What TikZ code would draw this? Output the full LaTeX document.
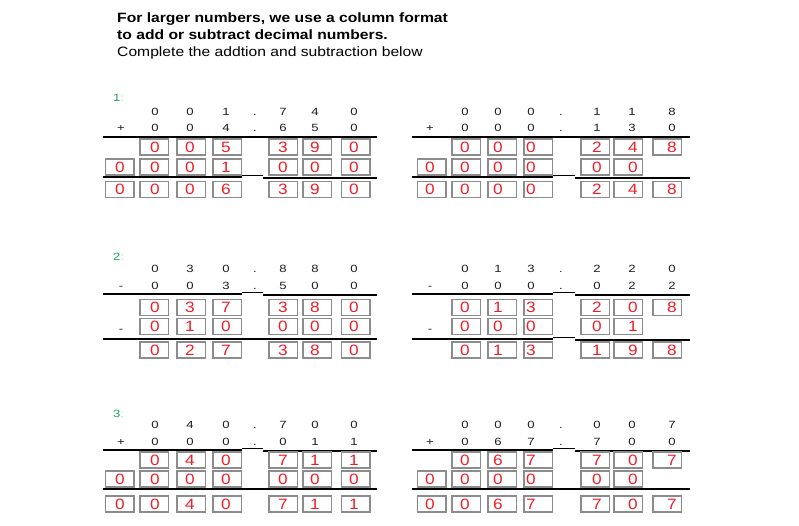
\documentclass[tikz,border=0pt]{standalone}
\usepackage{fontspec}
\setmainfont{Liberation Sans}
\definecolor{boxgray}{RGB}{140,140,140}
\definecolor{digred}{RGB}{240,30,40}
\definecolor{labgreen}{RGB}{30,170,90}
\definecolor{labfaint}{RGB}{170,220,190}
\definecolor{txt}{RGB}{30,30,30}
\newcommand\wideR[1]{\scalebox{1.15}[1]{#1}}
\newcommand\wideT[1]{\scalebox{1.25}[1]{#1}}
\newcommand\wideH[1]{\scalebox{1.16}[1]{#1}}
\tikzset{
 bx/.style={draw=boxgray, line width=1.5pt, minimum width=28.5pt, minimum height=16.3pt, inner sep=0pt},
 rd/.style={text=digred, font=\fontsize{15}{15}\selectfont, inner sep=0pt},
 tp/.style={text=txt, font=\fontsize{10.5}{10.5}\selectfont, inner sep=0pt, anchor=base},
 lab/.style={text=labgreen, font=\fontsize{10.5}{10.5}\selectfont, inner sep=0pt, anchor=base west},
 rulebar/.style={line width=2pt, black},
 thinbar/.style={line width=1pt, black},
 ttl/.style={font=\fontsize{13.5}{16}\selectfont, inner sep=0pt, anchor=base west, text=black},
}
% one row of boxes: prefix, y, list name/boxx/digitx/digit
\newcommand\bxrow[3]{\foreach \nm/\bx/\dx/\dg in {#3} {%
  \node[bx] (#1-\nm) at (\bx,#2) {};
  \node[rd] (#1-\nm-t) at (\dx,#2) {\wideR{\dg}};}}
% one row of printed digits: prefix, baseline y, list x/digit
\newcommand\digrow[3]{\foreach \xx/\dg [count=\i] in {#3} {%
  \node[tp] (#1-\i) at (\xx,#2) {\wideT{\dg}};}}
% a rule with a thin middle part: y, x0, g1, g2, x1
\newcommand\gapbar[5]{%
  \draw[rulebar] (#2,#1) -- (#3,#1);
  \draw[thinbar] (#3,#1-1.5) -- (#4,#1-1.5);
  \draw[rulebar] (#4,#1+1) -- (#5,#1+1);}
\begin{document}
\begin{tikzpicture}[x=1pt,y=-1pt]
\useasboundingbox[fill=white] (0,0) rectangle (799,525);
% title
\node[ttl,font=\fontsize{13.5}{16}\selectfont\bfseries] (t1) at (117,22) {\wideH{For larger numbers, we use a column format}};
\node[ttl,font=\fontsize{13.5}{16}\selectfont\bfseries] (t2) at (117,39.5) {\wideH{to add or subtract decimal numbers.}};
\node[ttl] (t3) at (117,56) {\wideH{Complete the addtion and subtraction below}};
% labels
\node[lab] (l1) at (113,101.7) {\wideT{1\textcolor{labfaint}{:}}};
\node[lab] (l2) at (113,260) {\wideT{2\textcolor{labfaint}{:}}};
\node[lab] (l3) at (113,417.3) {\wideT{3\textcolor{labfaint}{:}}};

%%%%% Problem 1 left
\digrow{p1la}{115}{155/0,190/0,226/1,255/.,283/7,315/4,354/0}
\digrow{p1lb}{131.7}{121/+,155/0,190/0,226/4,255/.,283/6,315/5,354/0}
\draw[rulebar] (103,137) -- (377,137);
\gapbar{177}{103}{242}{263}{377}
\bxrow{p1l1}{147}{a/154/155/0,b/191/190/0,c/227/226/5,d/283/283/3,e/317/315/9,f/355.5/354/0}
\bxrow{p1l2}{167}{k/119.5/120/0,a/154/155/0,b/191/190/0,c/227/226/1,d/283/283/0,e/317/315/0,f/355.5/354/0}
\bxrow{p1l3}{189.5}{k/119.5/120/0,a/154/155/0,b/191/190/0,c/227/226/6,d/283/283/3,e/317/315/9,f/355.5/354/0}

%%%%% Problem 1 right
\digrow{p1ra}{115}{465/0,498/0,531/0,561/.,597/1,632/1,672/8}
\digrow{p1rb}{131.7}{430/+,465/0,498/0,531/0,561/.,597/1,632/3,672/0}
\draw[rulebar] (412,137) -- (690,137);
\gapbar{177}{412}{553}{575}{690}
\bxrow{p1r1}{147}{a/466/465/0,b/502/498/0,c/538/531/0,d/595/597/2,e/628/633/4,f/667/672/8}
\bxrow{p1r2}{167}{k/431.5/430/0,a/466/465/0,b/502/498/0,c/538/531/0,d/595/597/0,e/628/633/0}
\bxrow{p1r3}{189.5}{k/431.5/430/0,a/466/465/0,b/502/498/0,c/538/531/0,d/595/597/2,e/628/633/4,f/667/672/8}

%%%%% Problem 2 left
\digrow{p2la}{272.3}{155/0,190/3,226/0,255/.,283/8,315/8,354/0}
\digrow{p2lb}{289}{121/-,155/0,190/0,226/3,255/.,283/5,315/0,354/0}
\gapbar{294}{103}{242}{263}{377}
\draw[rulebar] (103,339) -- (377,339);
\bxrow{p2l1}{307.5}{a/154/155/0,b/191/190/3,c/227/226/7,d/283/283/3,e/317/315/8,f/355.5/354/0}
\node[tp,anchor=center] (p2lm) at (121,331) {\wideT{-}};
\bxrow{p2l2}{326.5}{a/154/155/0,b/191/190/1,c/227/226/0,d/283/283/0,e/317/315/0,f/355.5/354/0}
\bxrow{p2l3}{350}{a/154/155/0,b/191/190/2,c/227/226/7,d/283/283/3,e/317/315/8,f/355.5/354/0}

%%%%% Problem 2 right
\digrow{p2ra}{272.3}{465/0,498/1,531/3,561/.,597/2,632/2,672/0}
\digrow{p2rb}{289}{430/-,465/0,498/0,531/0,561/.,597/0,632/2,672/2}
\gapbar{294}{412}{553}{575}{690}
\gapbar{339}{412}{553}{575}{690}
\bxrow{p2r1}{307.5}{a/466/465/0,b/502/498/1,c/538/531/3,d/595/597/2,e/628/633/0,f/667/672/8}
\node[tp,anchor=center] (p2rm) at (430,331) {\wideT{-}};
\bxrow{p2r2}{326.5}{a/466/465/0,b/502/498/0,c/538/531/0,d/595/597/0,e/628/633/1}
\bxrow{p2r3}{350}{a/466/465/0,b/502/498/1,c/538/531/3,d/595/597/1,e/628/633/9,f/667/672/8}

%%%%% Problem 3 left
\digrow{p3la}{428.3}{155/0,190/4,226/0,255/.,283/7,315/0,354/0}
\digrow{p3lb}{445}{121/+,155/0,190/0,226/0,255/.,283/0,315/1,354/1}
\gapbar{450}{103}{242}{263}{377}
\draw[rulebar] (103,489) -- (377,489);
\bxrow{p3l1}{460}{a/154/155/0,b/191/190/4,c/227/226/0,d/283/283/7,e/317/315/1,f/355.5/354/1}
\bxrow{p3l2}{479}{k/119.5/120/0,a/154/155/0,b/191/190/0,c/227/226/0,d/283/283/0,e/317/315/0,f/355.5/354/0}
\bxrow{p3l3}{504}{k/119.5/120/0,a/154/155/0,b/191/190/4,c/227/226/0,d/283/283/7,e/317/315/1,f/355.5/354/1}

%%%%% Problem 3 right
\digrow{p3ra}{428.3}{465/0,498/0,531/0,561/.,597/0,632/0,672/7}
\digrow{p3rb}{445}{430/+,465/0,498/6,531/7,561/.,597/7,632/0,672/0}
\gapbar{450}{412}{553}{575}{690}
\draw[rulebar] (412,489) -- (690,489);
\bxrow{p3r1}{460}{a/466/465/0,b/502/498/6,c/538/531/7,d/595/597/7,e/628/633/0,f/667/672/7}
\bxrow{p3r2}{479}{k/431.5/430/0,a/466/465/0,b/502/498/0,c/538/531/0,d/595/597/0,e/628/633/0}
\bxrow{p3r3}{504}{k/431.5/430/0,a/466/465/0,b/502/498/6,c/538/531/7,d/595/597/7,e/628/633/0,f/667/672/7}
\end{tikzpicture}
\end{document}
